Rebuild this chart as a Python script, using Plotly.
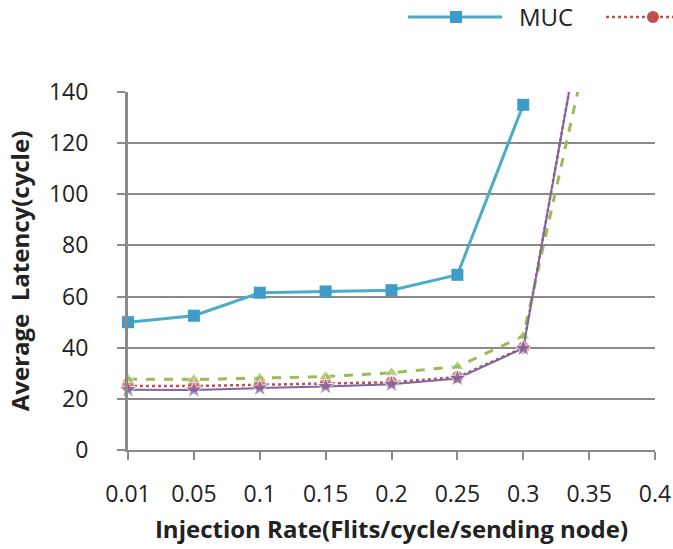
import plotly.graph_objects as go

x_labels = ["0.01", "0.05", "0.1", "0.15", "0.2", "0.25", "0.3", "0.35", "0.4"]
muc = [50, 52.5, 61.5, 62, 62.5, 68.5, 135, None, None]
red = [25, 25, 25.5, 26, 26.5, 28.5, 40, 184, None]
green = [27.7, 27.6, 28.1, 28.7, 30.2, 32.6, 44.5, 160, None]
purple = [23.6, 23.5, 24.2, 24.8, 25.7, 28, 39.8, 184, None]
y_ticks = [0, 20, 40, 60, 80, 100, 120, 140]

xs = list(range(len(x_labels)))
FONT = "Open Sans"
TXT = "#222222"
BLUE, RED, GREEN, PURPLE = "#4BACC6", "#C0504D", "#9BBB59", "#8064A2"

# plot area in pixels (for legend placement only)
L, R, T, B = 128, 655, 92, 450
PW, PH = R - L, B - T


def px(x):
    return (x - L) / PW


def py(y):
    return (B - y) / PH


def sizes(vals, s):
    return [0 if (v is not None and v > 140) else s for v in vals]


fig = go.Figure()
fig.add_trace(go.Scatter(
    x=xs, y=muc, name="MUC", mode="lines+markers", showlegend=False,
    line=dict(color=BLUE, width=3),
    marker=dict(symbol="square", size=12, color="#3D9CC9"),
    cliponaxis=False))
fig.add_trace(go.Scatter(
    x=xs, y=red, name="", mode="lines+markers", showlegend=False,
    line=dict(color=RED, width=2.5, dash="dot"),
    marker=dict(symbol="circle", size=sizes(red, 13), color=RED),
    cliponaxis=False))
fig.add_trace(go.Scatter(
    x=xs, y=green, name="", mode="lines+markers", showlegend=False,
    line=dict(color=GREEN, width=3, dash="dash"),
    marker=dict(symbol="triangle-up", size=sizes(green, 12), color=GREEN),
    cliponaxis=False))
fig.add_trace(go.Scatter(
    x=xs, y=purple, name="", mode="lines+markers", showlegend=False,
    line=dict(color=PURPLE, width=2),
    marker=dict(symbol="star", size=sizes(purple, 14), color=PURPLE),
    cliponaxis=False))

# legend (cut off at the right edge as in the reference)
ly = 17
shapes = [
    dict(type="line", xref="paper", yref="paper", x0=px(408), x1=px(502), y0=py(ly), y1=py(ly),
         line=dict(color=BLUE, width=3)),
    dict(type="rect", xref="paper", yref="paper", x0=px(450), x1=px(462),
         y0=py(ly + 6), y1=py(ly - 6), line=dict(width=0), fillcolor="#3D9CC9"),
    dict(type="line", xref="paper", yref="paper", x0=px(606), x1=px(680), y0=py(ly), y1=py(ly),
         line=dict(color=RED, width=2.5, dash="dot")),
    dict(type="circle", xref="paper", yref="paper", x0=px(647), x1=px(659),
         y0=py(ly + 6), y1=py(ly - 6), line=dict(width=0), fillcolor=RED),
]
annotations = [
    dict(text="MUC", xref="paper", yref="paper", x=px(517), y=py(ly), xanchor="left",
         yanchor="middle", showarrow=False, font=dict(family=FONT, size=24, color=TXT)),
]

fig.update_layout(
    width=673, height=549,
    margin=dict(l=L, r=673 - R, t=T, b=549 - B, autoexpand=False),
    plot_bgcolor="white", paper_bgcolor="white",
    font=dict(family=FONT, color=TXT, size=22),
    showlegend=False,
    shapes=shapes, annotations=annotations,
    xaxis=dict(
        range=[0, 8], tickmode="array", tickvals=xs, ticktext=x_labels,
        showgrid=False, zeroline=False, showline=True, linecolor="#8a8a8a", linewidth=2,
        ticks="outside", ticklen=8, tickwidth=2, tickcolor="#8a8a8a",
        ticklabelstandoff=14,
        tickfont=dict(family=FONT, size=23, color=TXT),
        title=dict(text="<b>Injection Rate(Flits/cycle/sending node)</b>",
                   font=dict(family=FONT, size=24, color=TXT), standoff=14)),
    yaxis=dict(
        range=[0, 140], tickmode="array", tickvals=y_ticks,
        showgrid=True, gridcolor="#8a8a8a", gridwidth=2, zeroline=False,
        showline=True, linecolor="#8a8a8a", linewidth=3,
        ticks="outside", ticklen=8, tickwidth=2, tickcolor="#8a8a8a",
        ticklabelstandoff=24,
        tickfont=dict(family=FONT, size=23, color=TXT),
        title=dict(text="<b>Average  Latency(cycle)</b>",
                   font=dict(family=FONT, size=24, color=TXT), standoff=13)),
)

fig.write_html("out.html")
